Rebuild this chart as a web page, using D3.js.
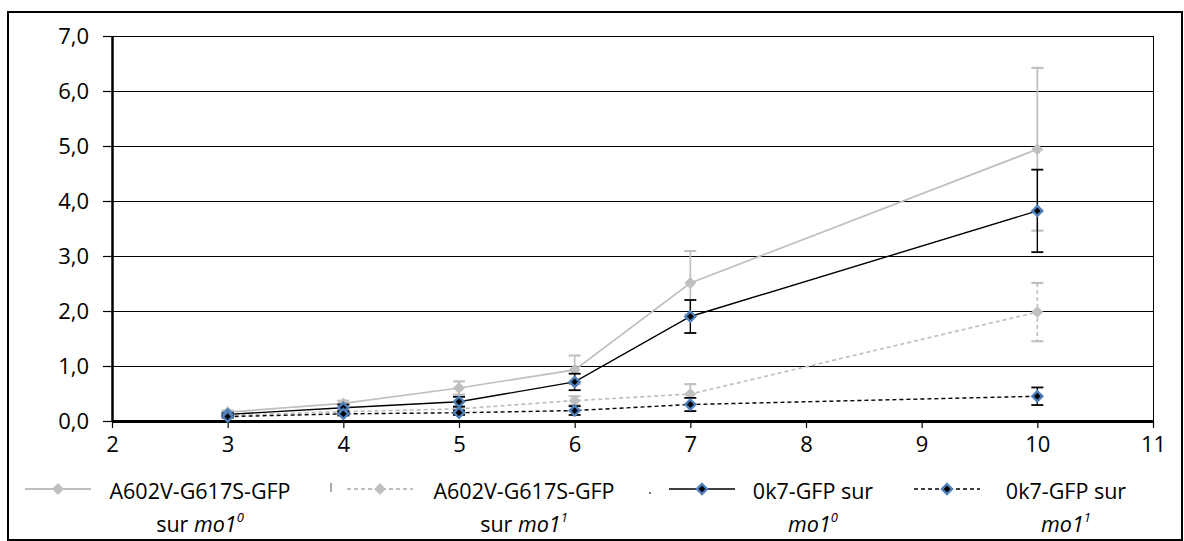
<!DOCTYPE html>
<html>
<head>
<meta charset="utf-8">
<script src="https://cdn.jsdelivr.net/npm/d3@7"></script>
<style>
  html, body { margin: 0; padding: 0; background: #fff; }
  svg { display: block; font-family: "Open Sans", "Liberation Sans", sans-serif; }
</style>
</head>
<body>
<svg id="chart" width="1184" height="541"></svg>
<script>
// Days after induction (x) and measured values per genotype
const xValues = [3, 4, 5, 6, 7, 10];

const a602vMo10 = [0.16, 0.32, 0.60, 0.93, 2.51, 4.94];
const a602vMo10Err = [0.03, 0.05, 0.12, 0.26, 0.58, 1.48];

const a602vMo11 = [0.10, 0.17, 0.22, 0.37, 0.49, 1.98];
const a602vMo11Err = [0.02, 0.03, 0.05, 0.08, 0.18, 0.53];

const ok7Mo10 = [0.12, 0.24, 0.35, 0.71, 1.90, 3.82];
const ok7Mo10Err = [0.03, 0.06, 0.09, 0.15, 0.30, 0.75];

const ok7Mo11 = [0.08, 0.13, 0.15, 0.19, 0.30, 0.45];
const ok7Mo11Err = [0.02, 0.03, 0.04, 0.08, 0.12, 0.16];

const xTicks = [2, 3, 4, 5, 6, 7, 8, 9, 10, 11];
const yTicks = [0, 1, 2, 3, 4, 5, 6, 7];

const series = [
  { line1: "A602V-G617S-GFP", pre: "sur ", sup: "0", values: a602vMo10, err: a602vMo10Err,
    color: "#bfbfbf", dash: null, marker: "grey" },
  { line1: "A602V-G617S-GFP", pre: "sur ", sup: "1", values: a602vMo11, err: a602vMo11Err,
    color: "#bfbfbf", dash: "4,3", marker: "grey" },
  { line1: "0k7-GFP sur", pre: "", sup: "0", values: ok7Mo10, err: ok7Mo10Err,
    color: "#000000", dash: null, marker: "blue" },
  { line1: "0k7-GFP sur", pre: "", sup: "1", values: ok7Mo11, err: ok7Mo11Err,
    color: "#000000", dash: "4,3", marker: "blue" }
];

const FONT = '"Open Sans", "Liberation Sans", sans-serif';
const svg = d3.select("#chart");

// Outer frame
svg.append("rect")
  .attr("x", 8).attr("y", 12)
  .attr("width", 1174).attr("height", 528)
  .attr("fill", "none").attr("stroke", "#000").attr("stroke-width", 2);

const plot = { left: 112, right: 1153, top: 36, bottom: 421 };

const x = d3.scaleLinear().domain([2, 11]).range([plot.left, plot.right]);
const y = d3.scaleLinear().domain([0, 7]).range([plot.bottom, plot.top]);

// Horizontal gridlines
svg.append("g")
  .attr("shape-rendering", "crispEdges")
  .selectAll("line")
  .data(yTicks.filter(d => d > 0))
  .join("line")
  .attr("x1", plot.left).attr("x2", plot.right)
  .attr("y1", d => Math.round(y(d)) + 0.5).attr("y2", d => Math.round(y(d)) + 0.5)
  .attr("stroke", "#000").attr("stroke-width", 1);

// Right border of plot area
svg.append("line")
  .attr("shape-rendering", "crispEdges")
  .attr("x1", plot.right + 0.5).attr("x2", plot.right + 0.5)
  .attr("y1", plot.top).attr("y2", plot.bottom)
  .attr("stroke", "#000").attr("stroke-width", 1);

const fmt = d => d.toFixed(1).replace(".", ",");

// Y axis
const yAxis = svg.append("g")
  .attr("transform", `translate(${plot.left},0)`)
  .call(d3.axisLeft(y).tickValues(yTicks).tickFormat(fmt).tickSizeOuter(0).tickSizeInner(9).tickPadding(14));
yAxis.attr("font-family", FONT).attr("font-size", 22);
yAxis.select(".domain").attr("stroke-width", 2.5);
yAxis.selectAll(".tick line").attr("stroke-width", 1.2);
yAxis.selectAll("text").attr("fill", "#000").attr("dy", "0.34em");

// X axis
const xAxis = svg.append("g")
  .attr("transform", `translate(0,${plot.bottom})`)
  .call(d3.axisBottom(x).tickValues(xTicks).tickFormat(d3.format("d")).tickSizeOuter(0).tickSizeInner(7).tickPadding(8));
xAxis.attr("font-family", FONT).attr("font-size", 22);
xAxis.select(".domain").attr("stroke-width", 3);
xAxis.selectAll(".tick line").attr("stroke-width", 1.2);
xAxis.selectAll("text").attr("fill", "#000").attr("dy", "0.71em");

const diamond = d3.symbol().type(d3.symbolDiamond2);

function drawMarker(g, cx, cy, kind) {
  if (kind === "grey") {
    g.append("path")
      .attr("d", diamond.size(90)())
      .attr("transform", `translate(${cx},${cy})`)
      .attr("fill", "#bfbfbf");
  } else {
    g.append("path")
      .attr("d", diamond.size(64)())
      .attr("transform", `translate(${cx},${cy})`)
      .attr("fill", "#000")
      .attr("stroke", "#4f81bd").attr("stroke-width", 2.4);
  }
}

const lineGen = d3.line().x(d => x(d[0])).y(d => y(d[1]));

series.forEach(s => {
  const g = svg.append("g");
  const pts = xValues.map((xv, i) => [xv, s.values[i], s.err[i]]);
  const w = s.color === "#000000" ? 1.4 : 1.7;

  // error bars
  pts.forEach(p => {
    const cx = x(p[0]);
    const yt = y(p[1] + p[2]);
    const yb = y(Math.max(0, p[1] - p[2]));
    g.append("line").attr("x1", cx).attr("x2", cx).attr("y1", yt).attr("y2", yb)
      .attr("stroke", s.color).attr("stroke-width", w)
      .attr("stroke-dasharray", s.dash);
    [yt, yb].forEach(yy => {
      g.append("line").attr("x1", cx - 6).attr("x2", cx + 6).attr("y1", yy).attr("y2", yy)
        .attr("stroke", s.color).attr("stroke-width", w + 0.4);
    });
  });

  g.append("path")
    .datum(pts)
    .attr("d", lineGen)
    .attr("fill", "none")
    .attr("stroke", s.color)
    .attr("stroke-width", w)
    .attr("stroke-dasharray", s.dash);

  s.group = g;
});

// markers on top of lines
series.forEach(s => {
  xValues.forEach((xv, i) => drawMarker(s.group, x(xv), y(s.values[i]), s.marker));
});

// Legend
const legendSymbolX = [58, 380, 702, 947];
const legendTextX = [200, 524, 813, 1066];
const legendY = 489;

const legend = svg.append("g").attr("font-size", 21.5).attr("fill", "#000");

series.forEach((s, i) => {
  const sx = legendSymbolX[i];
  legend.append("line")
    .attr("x1", sx - 33).attr("x2", sx + 33)
    .attr("y1", legendY).attr("y2", legendY)
    .attr("stroke", s.color).attr("stroke-width", s.color === "#000000" ? 1.6 : 1.8)
    .attr("stroke-dasharray", s.dash);
  drawMarker(legend, sx, legendY, s.marker);

  legend.append("text")
    .attr("x", legendTextX[i]).attr("y", 499)
    .attr("text-anchor", "middle")
    .text(s.line1);

  const t2 = legend.append("text")
    .attr("x", legendTextX[i]).attr("y", 532)
    .attr("text-anchor", "middle");
  if (s.pre) t2.append("tspan").text(s.pre);
  t2.append("tspan").attr("font-style", "italic").text("mo1");
  t2.append("tspan").attr("font-style", "italic").attr("font-size", 13).attr("dy", -10).text(s.sup);
});

// small clipped legend remnants
legend.append("line")
  .attr("x1", 331).attr("x2", 331).attr("y1", 483).attr("y2", 492)
  .attr("stroke", "#555").attr("stroke-width", 1);
legend.append("circle")
  .attr("cx", 650).attr("cy", 493).attr("r", 0.9).attr("fill", "#333");
</script>
</body>
</html>
